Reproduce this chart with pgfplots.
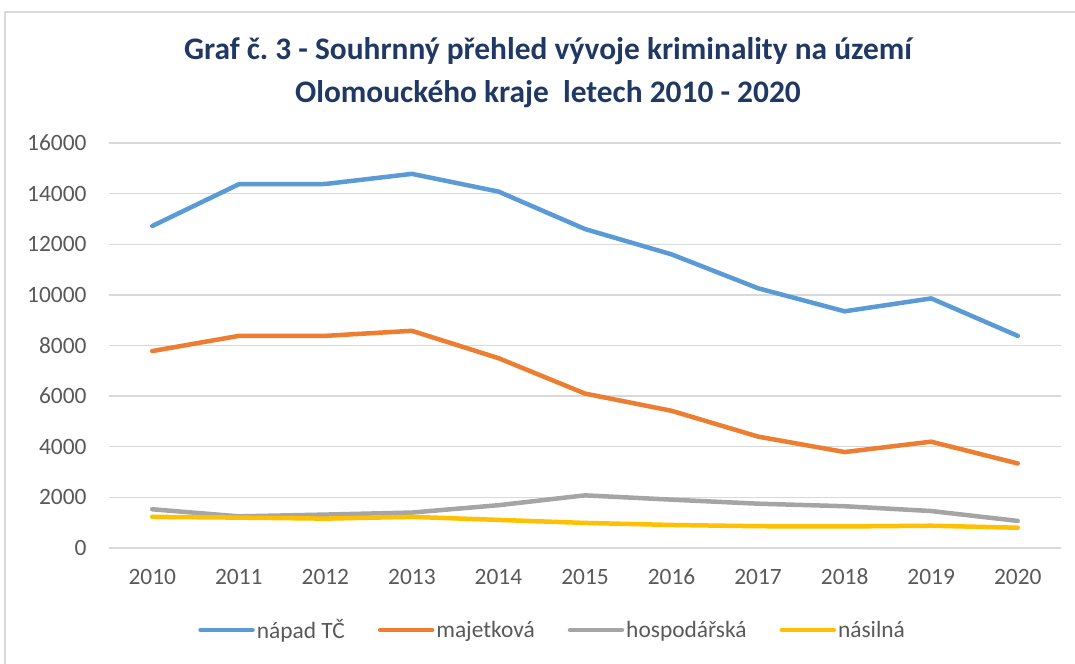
\documentclass[border=0pt]{standalone}
\usepackage{fontspec}
\setmainfont{Carlito}
\usepackage{pgfplots}
\pgfplotsset{compat=1.18}
\definecolor{cblue}{HTML}{5B9BD5}
\definecolor{corange}{HTML}{ED7D31}
\definecolor{cgray}{HTML}{A5A5A5}
\definecolor{cyellow}{HTML}{FFC000}
\definecolor{titleblue}{HTML}{203864}
\definecolor{labelgray}{HTML}{595959}
\definecolor{gridgray}{HTML}{D9D9D9}
\definecolor{framegray}{HTML}{D9D9D9}
\frenchspacing
\begin{document}
\begin{tikzpicture}[x=1bp,y=1bp]
\useasboundingbox (0,0) rectangle (1075,664);
\draw[color=framegray, line width=1.5bp] (5,-2) -- (5,652) -- (1077,652);
\node[font=\fontsize{31.5}{43}\selectfont\bfseries, text=titleblue, align=center] at (548,591)
  {Graf č. 3 - Souhrnný přehled vývoje kriminality na území\\Olomouckého kraje\ \ letech 2010 - 2020};
\begin{axis}[
  at={(109bp,116bp)}, anchor=south west,
  scale only axis, width=952bp, height=405bp,
  xmin=2009.5, xmax=2020.5, ymin=0, ymax=16000,
  xtick={2010,2011,...,2020}, ytick={0,2000,...,16000},
  scaled ticks=false,
  axis line style={draw=none}, tick style={draw=none},
  ymajorgrids, grid style={color=gridgray, line width=1.3bp},
  ticklabel style={font=\fontsize{23.5}{28}\selectfont, text=labelgray},
  /pgf/number format/1000 sep={},
  /pgf/number format/assume math mode=true,
  yticklabel style={xshift=-19bp},
  xticklabel style={yshift=-17bp, text height=16bp, text depth=0bp},
  legend columns=4,
  legend style={at={(0.466,-0.2025)}, anchor=center, draw=none, fill=none,
    font=\fontsize{23.5}{28}\selectfont, text=labelgray,
    /tikz/every even column/.append style={column sep=31bp}},
  legend cell align=left,
  legend image code/.code={\draw[line width=4.5bp, line cap=round] (0bp,0bp) -- (52bp,0bp);},
  every axis plot/.append style={line width=4.5bp, line join=round, line cap=round, mark=none},
]
\addplot[color=cblue] coordinates {
(2010,12720) (2011,14370) (2012,14380) (2013,14780) (2014,14080) (2015,12600)
(2016,11600) (2017,10260) (2018,9350) (2019,9860) (2020,8380)};
\addlegendentry{nápad TČ}
\addplot[color=corange] coordinates {
(2010,7780) (2011,8380) (2012,8380) (2013,8580) (2014,7500) (2015,6100)
(2016,5420) (2017,4400) (2018,3790) (2019,4200) (2020,3340)};
\addlegendentry{majetková}
\addplot[color=cgray] coordinates {
(2010,1530) (2011,1250) (2012,1320) (2013,1400) (2014,1690) (2015,2080)
(2016,1910) (2017,1750) (2018,1650) (2019,1460) (2020,1070)};
\addlegendentry{hospodářská}
\addplot[color=cyellow] coordinates {
(2010,1230) (2011,1200) (2012,1160) (2013,1230) (2014,1110) (2015,990)
(2016,910) (2017,860) (2018,850) (2019,880) (2020,800)};
\addlegendentry{násilná}
\end{axis}
\end{tikzpicture}
\end{document}
